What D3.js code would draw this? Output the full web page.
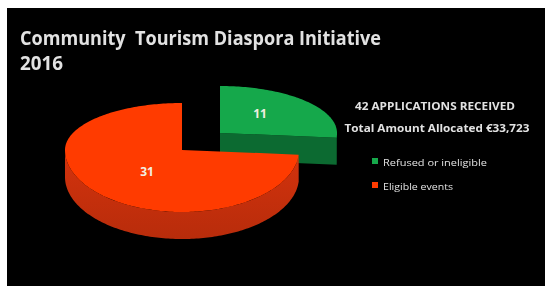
<!DOCTYPE html>
<html>
<head>
<meta charset="utf-8">
<script src="https://cdn.jsdelivr.net/npm/d3@7"></script>
<style>
  html, body { margin: 0; padding: 0; background: #fff; }
  svg { display: block; }
  text { font-family: "Open Sans", "DejaVu Sans", sans-serif; fill: #e2e2e2; white-space: pre; }
</style>
</head>
<body>
<script>
// data
var categories = ["Refused or ineligible", "Eligible events"];
var values = [11, 31];
var colors = ["#15a84b", "#ff3b00"];
var sideColors = ["#0c6a31", "#c9300c"];
var titleLines = ["Community\u00a0 Tourism Diaspora Initiative", "2016"];
var infoLines = ["42 APPLICATIONS RECEIVED", "Total Amount Allocated \u20ac33,723"];

var width = 545, height = 286;

var svg = d3.select("body").append("svg")
    .attr("width", width)
    .attr("height", height);

// black panel, white strip left/top
svg.append("rect")
    .attr("x", 7).attr("y", 8)
    .attr("width", width - 7).attr("height", height - 8)
    .attr("fill", "#000");

var defs = svg.append("defs");
var soft = defs.append("filter").attr("id", "soft")
    .attr("x", "-5%").attr("y", "-5%").attr("width", "110%").attr("height", "110%");
soft.append("feGaussianBlur").attr("stdDeviation", 0.45);

// side shading
sideColors.forEach(function(col, i) {
  var gr = defs.append("linearGradient").attr("id", "side" + i)
      .attr("x1", 0).attr("x2", 0).attr("y1", 0).attr("y2", 1);
  gr.append("stop").attr("offset", 0).attr("stop-color", d3.color(col).brighter(0.15));
  gr.append("stop").attr("offset", 1).attr("stop-color", d3.color(col).darker(0.25));
});

// title
svg.append("g").attr("filter", "url(#soft)")
  .selectAll("text")
  .data(titleLines)
  .enter().append("text")
    .attr("x", 20)
    .attr("y", function(d, i) { return 45 + i * 25; })
    .attr("font-size", 19)
    .attr("font-weight", "bold")
    .attr("textLength", function(d, i) { return i == 0 ? 361 : 43; })
    .attr("lengthAdjust", "spacingAndGlyphs")
    .text(function(d) { return d; });

// 3D pie
var pie = d3.pie().sort(null).startAngle(0).endAngle(2 * Math.PI);
var arcs = pie(values);

var rx = 117, ryBack = 47, ryFront = 62, depth = 27;
// the small slice is pulled out up and to the right
var centers = [{x: 220, y: 133}, {x: 182, y: 150}];

function pt(c, a, r) {
  var ca = Math.cos(a);
  var ry = ca > 0 ? ryBack : ryFront;
  return [c.x + rx * r * Math.sin(a), c.y - ry * r * ca];
}

function arcPts(c, a0, a1, dy) {
  var n = Math.max(2, Math.ceil((a1 - a0) / 0.02));
  return d3.range(n + 1).map(function(k) {
    var p = pt(c, a0 + (a1 - a0) * k / n, 1);
    return [p[0], p[1] + dy];
  });
}

var line = d3.line();

function topPath(d, c) {
  var pts = [[c.x, c.y]].concat(arcPts(c, d.startAngle, d.endAngle, 0));
  return line(pts) + "Z";
}

// front-facing outer wall
function wallPath(d, c) {
  var a0 = Math.max(d.startAngle, Math.PI / 2);
  var a1 = Math.min(d.endAngle, 3 * Math.PI / 2);
  if (a1 <= a0) return null;
  var up = arcPts(c, a0, a1, 0);
  var down = arcPts(c, a0, a1, depth).reverse();
  return line(up.concat(down)) + "Z";
}

// radial cut face at end angle (faces the viewer when the end is on the right)
function cutPath(d, c) {
  var a = d.endAngle;
  if (!(a > 0 && a < Math.PI)) return null;
  var p = pt(c, a, 1);
  return line([[c.x, c.y], p, [p[0], p[1] + depth], [c.x, c.y + depth]]) + "Z";
}

var pieG = svg.append("g");

[0, 1].forEach(function(i) {
  var d = arcs[i], c = centers[i];
  var g = pieG.append("g");
  var cut = cutPath(d, c);
  if (cut) g.append("path").attr("d", cut).attr("fill", sideColors[i]);
  var wall = wallPath(d, c);
  if (wall) g.append("path").attr("d", wall).attr("fill", "url(#side" + i + ")");
  g.append("path").attr("d", topPath(d, c)).attr("fill", colors[i]);
});

// value labels
var labelPos = [[260, 118], [147, 176]];
pieG.selectAll(".val")
  .data(arcs)
  .enter().append("text")
    .attr("class", "val")
    .attr("x", function(d, i) { return labelPos[i][0]; })
    .attr("y", function(d, i) { return labelPos[i][1]; })
    .attr("text-anchor", "middle")
    .attr("font-size", 12)
    .attr("font-weight", "bold")
    .style("fill", "#f2efe0")
    .text(function(d) { return d.value; });

// info text
var info = svg.append("g").attr("filter", "url(#soft)");
info.selectAll("text")
  .data(infoLines)
  .enter().append("text")
    .attr("x", function(d, i) { return i == 0 ? 435 : 437; })
    .attr("y", function(d, i) { return 110 + i * 22; })
    .attr("text-anchor", "middle")
    .attr("font-size", 10.5)
    .attr("font-weight", "bold")
    .attr("textLength", function(d, i) { return i == 0 ? 160 : 185; })
    .attr("lengthAdjust", "spacingAndGlyphs")
    .text(function(d) { return d; });

// legend
var legend = info.selectAll(".leg")
  .data(categories)
  .enter().append("g")
    .attr("class", "leg")
    .attr("transform", function(d, i) { return "translate(372," + (158 + i * 24) + ")"; });

legend.append("rect")
    .attr("width", 6).attr("height", 6)
    .attr("fill", function(d, i) { return colors[i]; });

legend.append("text")
    .attr("x", 11)
    .attr("y", 8)
    .attr("font-size", 9.5)
    .attr("textLength", function(d, i) { return i == 0 ? 104 : 70; })
    .attr("lengthAdjust", "spacingAndGlyphs")
    .text(function(d) { return d; });
</script>
</body>
</html>
